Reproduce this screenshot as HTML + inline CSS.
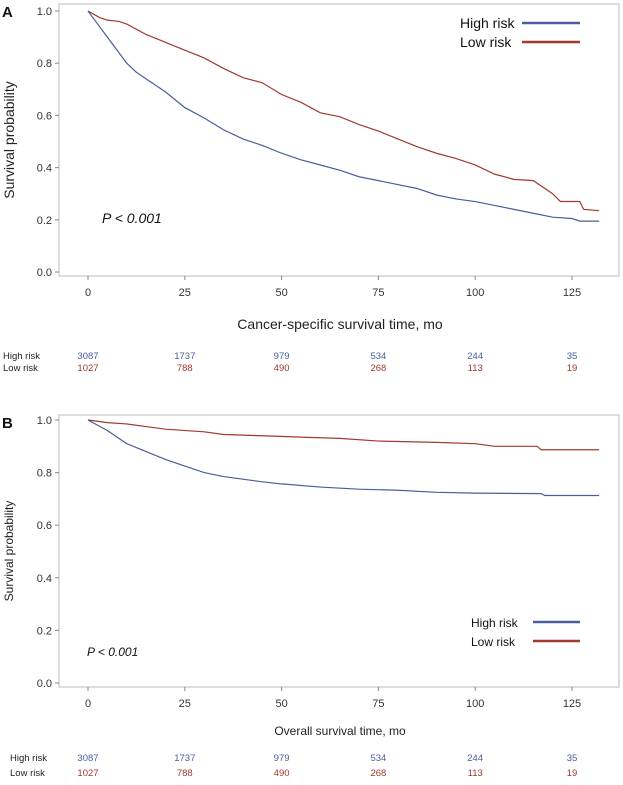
<!DOCTYPE html>
<html><head><meta charset="utf-8"><style>
body{margin:0;background:#fff;font-family:"Liberation Sans",sans-serif}
svg text{font-family:"Liberation Sans",sans-serif}
</style></head><body>
<svg id="s" width="623" height="780" viewBox="0 0 623 780"></svg>
<script>
const xTicks=[0,25,50,75,100,125];
const yTicks=[0.0,0.2,0.4,0.6,0.8,1.0];
const aHighT=[0,2.5,5,7.5,10,12.5,15,17.5,20,22.5,25,30,35,40,45,50,55,60,65,70,75,80,85,90,95,100,105,110,115,120,125,127,132];
const aHighS=[1,.95,.9,.85,.8,.765,.74,.715,.69,.66,.63,.59,.545,.51,.485,.455,.43,.41,.39,.365,.35,.335,.32,.295,.28,.27,.255,.24,.225,.21,.205,.195,.195];
const aLowT=[0,3,5,8,10,15,20,25,30,35,40,45,50,55,60,65,70,75,80,85,90,95,100,105,110,115,117,120,122,127,128,132];
const aLowS=[1,.975,.965,.96,.95,.91,.88,.85,.82,.78,.745,.725,.68,.65,.61,.595,.565,.54,.51,.48,.455,.435,.41,.375,.355,.35,.33,.3,.27,.27,.24,.235];
const bHighT=[0,5,10,15,20,25,30,35,40,45,50,60,70,80,90,100,117,118,132];
const bHighS=[1,.96,.91,.88,.85,.825,.8,.785,.775,.765,.757,.745,.737,.733,.725,.722,.72,.713,.713];
const bLowT=[0,5,10,15,20,30,35,45,55,65,75,90,100,105,116,117,132];
const bLowS=[1,.99,.985,.975,.965,.955,.945,.94,.935,.93,.92,.915,.91,.9,.9,.887,.887];
const atRiskHigh=["3087","1737","979","534","244","35"];
const atRiskLow=["1027","788","490","268","113","19"];
const BLUE="#4a5d9c",RED="#a0392e";
const svg=document.getElementById('s');
const NS="http://www.w3.org/2000/svg";
function el(t,a,txt){const e=document.createElementNS(NS,t);for(const k in a)e.setAttribute(k,a[k]);if(txt!=null)e.textContent=txt;svg.appendChild(e);return e;}
function panel(o){
 const xs=t=>88+t*(572-88)/125;
 const ys=v=>o.y0-v*(o.y0-o.y1);
 let e=el('rect',{x:59,y:o.top,width:560,height:o.bot-o.top,fill:'none',stroke:'#bbb','stroke-width':1});
 
 e=el('text',{x:2,y:o.top+13,'font-size':15,'font-weight':'bold',fill:'#111'},o.label);
 
 yTicks.forEach(v=>{
  e=el('line',{x1:55,x2:59,y1:ys(v),y2:ys(v),stroke:'#888'});
  e=el('text',{x:52,y:ys(v)+4,'font-size':11,'text-anchor':'end',fill:'#333'},v.toFixed(1));
 });
 xTicks.forEach(v=>{
  e=el('line',{x1:xs(v),x2:xs(v),y1:o.bot,y2:o.bot+4,stroke:'#888'});
  e=el('text',{x:xs(v),y:o.bot+20,'font-size':11,'text-anchor':'middle',fill:'#333'},String(v));
 });
 e=el('text',{x:0,y:0,'font-size':o.fs,'text-anchor':'middle',fill:'#222',transform:`translate(${o.ylx},${(o.top+o.bot)/2}) rotate(-90)`},'Survival probability');
 
 e=el('text',{x:340,y:o.titleY,'font-size':o.fs,'text-anchor':'middle',fill:'#222'},o.title);
 
 function curve(T,S,c,n){let d=`M${xs(T[0])},${ys(S[0])}`;for(let i=1;i<T.length;i++){d+=`L${xs(T[i])},${ys(S[i])}`;}
  const p=el('path',{d,fill:'none',stroke:c,'stroke-width':1.2});}
 curve(o.lt,o.ls,RED,o.id+'-low-risk-curve');
 curve(o.ht,o.hs,BLUE,o.id+'-high-risk-curve');
 e=el('text',{x:o.px,y:o.py,'font-size':o.pfs,'font-style':'italic',fill:'#111'},'P < 0.001');
 
 [['High risk',BLUE,o.lgY],['Low risk',RED,o.lgY+19]].forEach(([t,c,y])=>{
  e=el('text',{x:o.lgX,y:y+5,'font-size':o.lfs,fill:'#111'},t);
  e=el('line',{x1:o.lgL,x2:580,y1:y,y2:y,stroke:c,'stroke-width':2.5});
 });
 [['High risk',atRiskHigh,BLUE,o.r1],['Low risk',atRiskLow,RED,o.r2]].forEach(([t,arr,c,y])=>{
  e=el('text',{x:o.rlx,y:y,'font-size':9.5,fill:'#222'},t);
  arr.forEach((v,i)=>{e=el('text',{x:xs(xTicks[i]),y:y,'font-size':9.5,'text-anchor':'middle',fill:c},v);});
 });
}
panel({id:'panel-a',label:'A',top:4,bot:276,y1:11,y0:272,ylx:14,fs:14,title:'Cancer-specific survival time, mo',titleY:329,
 ht:aHighT,hs:aHighS,lt:aLowT,ls:aLowS,px:102,py:223,pfs:14,lgX:460,lgL:522,lgY:23,lfs:14,r1:359,r2:371,rlx:3});
panel({id:'panel-b',label:'B',top:415,bot:687,y1:420,y0:683,ylx:13,fs:12,title:'Overall survival time, mo',titleY:735,
 ht:bHighT,hs:bHighS,lt:bLowT,ls:bLowS,px:87,py:656,pfs:12,lgX:471,lgL:533,lgY:622,lfs:12,r1:761,r2:776,rlx:10});
</script>
</body></html>
